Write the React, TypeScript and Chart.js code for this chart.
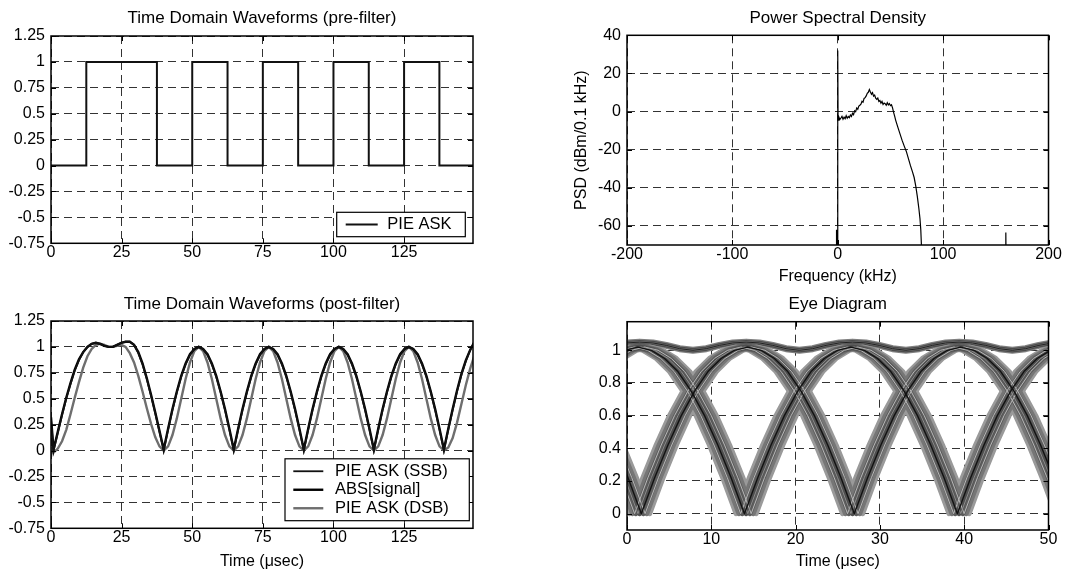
import React, { useEffect, useRef } from 'react';
import { Chart, registerables } from 'chart.js';

Chart.register(...registerables);

const FONT = "'Liberation Sans', Arial, Helvetica, sans-serif";
const GRID_COLOR = '#333333';
const GRID_DASH = [8, 5];

// ---------------- Time Domain Waveforms (pre-filter) ----------------
const preTitle = 'Time Domain Waveforms (pre-filter)';
const preXRange = [0, 149.4];
const preYRange = [-0.75, 1.25];
const preXTicks = [0, 25, 50, 75, 100, 125];
const preXTickLabels = ['0', '25', '50', '75', '100', '125'];
const preYTicks = [-0.75, -0.5, -0.25, 0, 0.25, 0.5, 0.75, 1, 1.25];
const preYTickLabels = ['-0.75', '-0.5', '-0.25', '0', '0.25', '0.5', '0.75', '1', '1.25'];
const pieEdgeTimes = [0, 12.5, 37.5, 50, 62.5, 75, 87.5, 100, 112.5, 125, 137.5, 150];
const pieLevels = [0, 1, 0, 1, 0, 1, 0, 1, 0, 1, 0, 0];
const preLegendLabels = ['PIE ASK'];

// ---------------- Time Domain Waveforms (post-filter) ----------------
const postTitle = 'Time Domain Waveforms (post-filter)';
const postXTitle = 'Time (\u03bcsec)';
const postXRange = [0, 149.4];
const postYRange = [-0.75, 1.25];
const postXTicks = [0, 25, 50, 75, 100, 125];
const postXTickLabels = ['0', '25', '50', '75', '100', '125'];
const postYTicks = [-0.75, -0.5, -0.25, 0, 0.25, 0.5, 0.75, 1, 1.25];
const postYTickLabels = ['-0.75', '-0.5', '-0.25', '0', '0.25', '0.5', '0.75', '1', '1.25'];
const postLegendLabels = ['PIE ASK (SSB)', 'ABS[signal]', 'PIE ASK (DSB)'];
const postTimes = [
  0, 0.9, 2.4, 3.9, 5.4, 6.9, 8.4, 9.9, 11.4, 12.9, 14.4, 15.9, 17.4, 18.9, 20.4, 21.9, 23.4, 24.9, 26.4, 27.9,
  29.4, 30.9, 32.4, 33.9, 35.4, 36.9, 38.4, 39.9,
  41.45, 43, 44.55, 46.1, 47.65, 49.2, 50.75, 52.3, 53.85, 55.4, 56.95, 58.5, 60.05, 61.6, 63.15, 64.7,
  66.25, 67.8, 69.35, 70.9, 72.45, 74, 75.55, 77.1, 78.65, 80.2, 81.75, 83.3, 84.85, 86.4, 87.95, 89.5,
  91.05, 92.6, 94.15, 95.7, 97.25, 98.8, 100.35, 101.9, 103.45, 105, 106.55, 108.1, 109.65, 111.2, 112.75, 114.3,
  115.85, 117.4, 118.95, 120.5, 122.05, 123.6, 125.15, 126.7, 128.25, 129.8, 131.35, 132.9, 134.45, 136, 137.55, 139.1,
  140.65, 142.2, 143.75, 145.3, 146.85, 148.4, 149.95,
];
const ssbValues = [
  0.3, 0, 0.17, 0.34, 0.5, 0.64, 0.77, 0.87, 0.95, 1.0, 1.03, 1.04, 1.03, 1.01, 1.0, 1.0, 1.02, 1.04, 1.05, 1.05,
  1.02, 0.94, 0.83, 0.69, 0.53, 0.36, 0.18, 0,
  0.2, 0.39, 0.56, 0.71, 0.83, 0.92, 0.98, 1.0, 0.98, 0.92, 0.83, 0.71, 0.56, 0.39, 0.2, 0,
  0.2, 0.39, 0.56, 0.71, 0.83, 0.92, 0.98, 1.0, 0.98, 0.92, 0.83, 0.71, 0.56, 0.39, 0.2, 0,
  0.2, 0.39, 0.56, 0.71, 0.83, 0.92, 0.98, 1.0, 0.98, 0.92, 0.83, 0.71, 0.56, 0.39, 0.2, 0,
  0.2, 0.39, 0.56, 0.71, 0.83, 0.92, 0.98, 1.0, 0.98, 0.92, 0.83, 0.71, 0.56, 0.39, 0.2, 0,
  0.2, 0.39, 0.57, 0.73, 0.86, 0.97, 1.05,
];
const absValues = [
  0.32, 0.01, 0.18, 0.35, 0.51, 0.65, 0.78, 0.88, 0.95, 1.0, 1.03, 1.04, 1.03, 1.01, 1.0, 1.0, 1.02, 1.04, 1.05, 1.05,
  1.02, 0.95, 0.84, 0.7, 0.54, 0.37, 0.19, 0.01,
  0.21, 0.4, 0.57, 0.72, 0.84, 0.93, 0.98, 1.0, 0.98, 0.93, 0.84, 0.72, 0.57, 0.4, 0.21, 0.01,
  0.21, 0.4, 0.57, 0.72, 0.84, 0.93, 0.98, 1.0, 0.98, 0.93, 0.84, 0.72, 0.57, 0.4, 0.21, 0.01,
  0.21, 0.4, 0.57, 0.72, 0.84, 0.93, 0.98, 1.0, 0.98, 0.93, 0.84, 0.72, 0.57, 0.4, 0.21, 0.01,
  0.21, 0.4, 0.57, 0.72, 0.84, 0.93, 0.98, 1.0, 0.98, 0.93, 0.84, 0.72, 0.57, 0.4, 0.21, 0.01,
  0.21, 0.4, 0.58, 0.74, 0.87, 0.97, 1.05,
];
const dsbValues = [
  0.04, -0.02, 0.02, 0.09, 0.2, 0.35, 0.51, 0.66, 0.8, 0.91, 0.98, 1.02, 1.03, 1.02, 1.0, 1.0, 1.01, 1.02, 1.0, 0.94,
  0.85, 0.72, 0.57, 0.41, 0.26, 0.13, 0.04, 0,
  0.04, 0.15, 0.31, 0.5, 0.69, 0.85, 0.96, 1.0, 0.96, 0.85, 0.69, 0.5, 0.31, 0.15, 0.04, 0,
  0.04, 0.15, 0.31, 0.5, 0.69, 0.85, 0.96, 1.0, 0.96, 0.85, 0.69, 0.5, 0.31, 0.15, 0.04, 0,
  0.04, 0.15, 0.31, 0.5, 0.69, 0.85, 0.96, 1.0, 0.96, 0.85, 0.69, 0.5, 0.31, 0.15, 0.04, 0,
  0.04, 0.15, 0.31, 0.5, 0.69, 0.85, 0.96, 1.0, 0.96, 0.85, 0.69, 0.5, 0.31, 0.15, 0.04, 0,
  0.03, 0.12, 0.27, 0.45, 0.63, 0.79, 0.92,
];

// ---------------- Power Spectral Density ----------------
const psdTitle = 'Power Spectral Density';
const psdXTitle = 'Frequency (kHz)';
const psdYTitle = 'PSD (dBm/0.1 kHz)';
const psdXRange = [-200, 200];
const psdYRange = [-70, 40];
const psdXTicks = [-200, -100, 0, 100, 200];
const psdXTickLabels = ['-200', '-100', '0', '100', '200'];
const psdYTicks = [-60, -40, -20, 0, 20, 40];
const psdYTickLabels = ['-60', '-40', '-20', '0', '20', '40'];
const psdFreq = [
  -1.2, -1.2, -1.1, 0, 0,
  0.3, 1, 2, 3, 4, 5, 6, 7, 8, 9, 10,
  11, 12, 13, 14, 15, 16, 17, 18, 19, 20,
  21, 22, 23, 24, 25, 26, 27, 28, 29, 30,
  31, 32, 33, 34, 35, 36, 37, 38, 39, 40,
  41, 42, 43, 44, 45, 46, 47, 48, 49, 50,
  51, 52, 53, 54, 55,
  57, 59, 61, 63, 65, 67, 69, 71, 72.5, 74, 75.5, 77, 78, 78.8, 79.4, 79.8,
  159.5, 159.5, 159.7,
];
const psdValues = [
  -75, -62, -75, -75, 32,
  -4.5, -2.8, -4.2, -3.4, -2.5, -4.0, -2.9, -3.7, -2.2, -3.5, -2.6,
  -3.2, -1.8, -2.6, -0.9, -1.6, 0.4, -0.1, 1.9, 1.2, 2.9,
  3.3, 3.9, 5.4, 4.9, 6.9, 7.3, 8.2, 9.6, 10.1, 11.5,
  10.2, 9.1, 9.9, 8.1, 8.6, 7.0, 6.4, 7.1, 5.3, 5.8,
  4.4, 5.3, 3.7, 4.5, 4.1, 3.3, 4.6, 3.5, 4.2, 3.1,
  3.6, 1.9, -0.4, -2.4, -4.6,
  -8.2, -11.6, -15.0, -18.0, -20.8, -24.6, -28.4, -31.8, -34.6, -39.0, -44.5, -51.0, -56, -62, -70, -75,
  -75, -63.5, -75,
];

// ---------------- Eye Diagram ----------------
const eyeTitle = 'Eye Diagram';
const eyeXTitle = 'Time (\u03bcsec)';
const eyeXRange = [0, 50];
const eyeYRange = [-0.1, 1.175];
const eyeXTicks = [0, 10, 20, 30, 40, 50];
const eyeXTickLabels = ['0', '10', '20', '30', '40', '50'];
const eyeYTicks = [0, 0.2, 0.4, 0.6, 0.8, 1];
const eyeYTickLabels = ['0', '0.2', '0.4', '0.6', '0.8', '1'];
const eyeTime = [
  -1.66, -0.08, 1.5, 3.08, 4.66, 6.24, 7.82, 9.4, 10.97, 12.55, 14.13, 15.71, 17.29, 18.87, 20.45, 22.03, 23.61, 25.18,
  26.76, 28.34, 29.92, 31.5, 33.08, 34.66, 36.23, 37.81, 39.39, 40.97, 42.55, 44.13, 45.71, 47.29, 48.86, 50.44, 52.02,
];
// falling / rising / falling / rising ... trace
const eyeTraceA = [
  0.42, 0.22, 0, 0.22, 0.42, 0.6, 0.75, 0.87, 0.95, 1.0, 1.02, 1.0, 0.95, 0.87, 0.75, 0.6, 0.42, 0.22,
  0, 0.22, 0.42, 0.6, 0.75, 0.87, 0.95, 1.0, 1.02, 1.0, 0.95, 0.87, 0.75, 0.6, 0.42, 0.22, 0,
];
// rising / falling / rising / falling ... trace
const eyeTraceB = [
  0.95, 1.0, 1.02, 1.0, 0.95, 0.87, 0.75, 0.6, 0.42, 0.22, 0, 0.22, 0.42, 0.6, 0.75, 0.87, 0.95, 1.0,
  1.02, 1.0, 0.95, 0.87, 0.75, 0.6, 0.42, 0.22, 0, 0.22, 0.42, 0.6, 0.75, 0.87, 0.95, 1.0, 1.02,
];
// long-high trace (ripple near 1)
const eyeTraceC = [
  1.03, 1.045, 1.05, 1.045, 1.03, 1.01, 1.0, 1.01, 1.03, 1.045, 1.05, 1.045, 1.03, 1.01, 1.0, 1.01, 1.03, 1.045,
  1.05, 1.045, 1.03, 1.01, 1.0, 1.01, 1.03, 1.045, 1.05, 1.045, 1.03, 1.01, 1.0, 1.01, 1.03, 1.045, 1.05,
];
// timing jitter (usec) of the overlaid traces
const eyeJitter = [-1.2, 1.2, -0.85, 0.85, -0.45, 0.45, 0, -0.6, 0.65, -0.2, 0.2];

// ---------------- styling / layout ----------------
const eyeJitterStyles = [
  { w: 5, c: '#9a9a9a' },
  { w: 5, c: '#9a9a9a' },
  { w: 5, c: '#767676' },
  { w: 5, c: '#767676' },
  { w: 5, c: '#5c5c5c' },
  { w: 5, c: '#5c5c5c' },
  { w: 5, c: '#4e4e4e' },
  { w: 1, c: '#b8b8b8' },
  { w: 1, c: '#b8b8b8' },
  { w: 1, c: '#8c8c8c' },
  { w: 1.3, c: '#111111' },
];
const eyeFlatLayers = [
  { w: 7, c: '#808080' },
  { w: 4.5, c: '#4c4c4c' },
  { w: 2, c: '#707070' },
  { w: 1, c: '#222222' },
];

type Panel = {
  left: number; top: number; width: number; height: number;
  padRight: number; yAxisWidth: number; xAxisHeight: number;
  titlePadTop: number; titlePadBottom: number;
  xTitlePadBottom?: number; yTitlePadTop?: number;
};

const panelA: Panel = { left: 0, top: 0, width: 530, height: 289, padRight: 57, yAxisWidth: 51, xAxisHeight: 45.7, titlePadTop: 8.1, titlePadBottom: 7.5 };
const panelB: Panel = { left: 530, top: 0, width: 535, height: 289, padRight: 16.5, yAxisWidth: 97, xAxisHeight: 44, titlePadTop: 7.8, titlePadBottom: 7.1, xTitlePadBottom: 2.4, yTitlePadTop: 41.9 };
const panelC: Panel = { left: 0, top: 289, width: 530, height: 289, padRight: 57, yAxisWidth: 51, xAxisHeight: 49.7, titlePadTop: 5.3, titlePadBottom: 6.3, xTitlePadBottom: 6.4 };
const panelD: Panel = { left: 530, top: 289, width: 535, height: 289, padRight: 16.5, yAxisWidth: 97, xAxisHeight: 48, titlePadTop: 5.3, titlePadBottom: 7.0, xTitlePadBottom: 6.4 };

const pts = (xs: number[], ys: number[], dt = 0) => xs.map((x, i) => ({ x: x + dt, y: ys[i] }));

const matlabAxesPlugin = {
  id: 'matlabAxes',
  afterDraw(chart: any, _args: any, opts: any) {
    const { ctx, chartArea: a, scales } = chart;
    const xs = scales.x;
    const ys = scales.y;
    ctx.save();
    ctx.setLineDash([]);
    ctx.strokeStyle = '#000';
    ctx.lineWidth = 1;
    const tl = 5;
    ctx.beginPath();
    xs.ticks.forEach((t: any) => {
      const px = Math.round(xs.getPixelForValue(t.value)) + 0.5;
      ctx.moveTo(px, a.bottom);
      ctx.lineTo(px, a.bottom - tl);
      ctx.moveTo(px, a.top);
      ctx.lineTo(px, a.top + tl);
    });
    ys.ticks.forEach((t: any) => {
      const py = Math.round(ys.getPixelForValue(t.value)) + 0.5;
      ctx.moveTo(a.left, py);
      ctx.lineTo(a.left + tl, py);
      ctx.moveTo(a.right, py);
      ctx.lineTo(a.right - tl, py);
    });
    ctx.stroke();
    ctx.lineWidth = 1.5;
    ctx.strokeRect(a.left, a.top, a.right - a.left, a.bottom - a.top);

    const lg = opts && opts.legend;
    if (lg) {
      const items = chart.data.datasets.filter((d: any) => d.inLegend);
      const h = items.length * lg.rowHeight + 2 * lg.padY;
      const x0 = a.right - lg.right - lg.width;
      const y0 = a.bottom - lg.bottom - h;
      ctx.fillStyle = '#fff';
      ctx.fillRect(x0, y0, lg.width, h);
      ctx.strokeStyle = '#000';
      ctx.lineWidth = 1.2;
      ctx.strokeRect(x0, y0, lg.width, h);
      items.forEach((ds: any, i: number) => {
        const cy = y0 + lg.padY + lg.rowHeight * (i + 0.5);
        ctx.strokeStyle = ds.borderColor;
        ctx.lineWidth = ds.borderWidth;
        ctx.beginPath();
        ctx.moveTo(x0 + lg.lineX, cy);
        ctx.lineTo(x0 + lg.lineX + lg.lineLen, cy);
        ctx.stroke();
        ctx.fillStyle = '#000';
        ctx.font = `${lg.fontSize}px ${FONT}`;
        ctx.textAlign = 'left';
        ctx.textBaseline = 'middle';
        ctx.fillText(ds.label, x0 + lg.textX, cy);
      });
    }
    ctx.restore();
  },
};

function axis(kind: 'x' | 'y', range: number[], ticks: number[], labels: string[], panel: Panel, title?: string) {
  const isX = kind === 'x';
  return {
    type: 'linear',
    min: range[0],
    max: range[1],
    afterBuildTicks: (s: any) => {
      s.ticks = ticks.map((v) => ({ value: v }));
    },
    afterFit: (s: any) => {
      if (isX) s.height = panel.xAxisHeight;
      else s.width = panel.yAxisWidth;
    },
    ticks: {
      autoSkip: false,
      maxRotation: 0,
      minRotation: 0,
      padding: isX ? 0 : 6,
      color: '#000',
      font: { family: FONT, size: 16, lineHeight: 1.2 },
      callback: (_v: any, i: number) => labels[i],
    },
    grid: { color: GRID_COLOR, lineWidth: 1, drawTicks: false },
    border: { display: false, dash: GRID_DASH },
    title: title
      ? {
          display: true,
          text: title,
          color: '#000',
          font: { family: FONT, size: 16, lineHeight: 1.2 },
          padding: isX ? { top: 0, bottom: panel.xTitlePadBottom || 0 } : { top: panel.yTitlePadTop || 0, bottom: 0 },
        }
      : { display: false },
  };
}

function baseConfig(panel: Panel, titleText: string, datasets: any[], scales: any, legend?: any) {
  return {
    type: 'line',
    data: { datasets },
    options: {
      animation: false,
      responsive: false,
      maintainAspectRatio: false,
      devicePixelRatio: 1,
      events: [],
      layout: { padding: { left: 0, top: 0, right: panel.padRight, bottom: 0 } },
      elements: { point: { radius: 0 }, line: { tension: 0 } },
      plugins: {
        legend: { display: false },
        tooltip: { enabled: false },
        title: {
          display: true,
          text: titleText,
          fullSize: false,
          color: '#000',
          font: { family: FONT, size: 17, weight: 'normal', lineHeight: 1.2 },
          padding: { top: panel.titlePadTop, bottom: panel.titlePadBottom },
        },
        matlabAxes: { legend: legend || null },
      },
      scales,
    },
    plugins: [matlabAxesPlugin],
  };
}

const buildA = () =>
  baseConfig(
    panelA,
    preTitle,
    [
      {
        label: preLegendLabels[0],
        inLegend: true,
        data: pts(pieEdgeTimes, pieLevels),
        stepped: 'before',
        borderColor: '#111111',
        borderWidth: 2,
        pointRadius: 0,
        clip: 0,
      },
    ],
    {
      x: axis('x', preXRange, preXTicks, preXTickLabels, panelA),
      y: axis('y', preYRange, preYTicks, preYTickLabels, panelA),
    },
    { right: 7.7, bottom: 6.6, width: 128.6, rowHeight: 18.4, padY: 3, lineX: 9, lineLen: 32, textX: 50.6, fontSize: 16.5 }
  );

const buildB = () =>
  baseConfig(
    panelB,
    psdTitle,
    [
      {
        label: 'PSD',
        data: pts(psdFreq, psdValues),
        borderColor: '#000000',
        borderWidth: 1.2,
        pointRadius: 0,
        clip: 0,
      },
    ],
    {
      x: axis('x', psdXRange, psdXTicks, psdXTickLabels, panelB, psdXTitle),
      y: axis('y', psdYRange, psdYTicks, psdYTickLabels, panelB, psdYTitle),
    }
  );

const buildC = () =>
  baseConfig(
    panelC,
    postTitle,
    [
      { label: postLegendLabels[0], inLegend: true, data: pts(postTimes, ssbValues), borderColor: '#111111', borderWidth: 1.8, pointRadius: 0, clip: 0, order: 1 },
      { label: postLegendLabels[1], inLegend: true, data: pts(postTimes, absValues), borderColor: '#000000', borderWidth: 2.4, pointRadius: 0, clip: 0, order: 2 },
      { label: postLegendLabels[2], inLegend: true, data: pts(postTimes, dsbValues), borderColor: '#6e6e6e', borderWidth: 2.4, pointRadius: 0, clip: 0, order: 3 },
    ],
    {
      x: axis('x', postXRange, postXTicks, postXTickLabels, panelC, postXTitle),
      y: axis('y', postYRange, postYTicks, postYTickLabels, panelC),
    },
    { right: 3.7, bottom: 7.6, width: 184.3, rowHeight: 18.5, padY: 3.2, lineX: 8.3, lineLen: 30, textX: 50, fontSize: 16.5 }
  );

const buildD = () => {
  const seq: any[] = [];
  eyeFlatLayers.forEach((l) => {
    seq.push({ label: 'eye', data: pts(eyeTime, eyeTraceC), borderColor: l.c, borderWidth: l.w });
  });
  eyeJitter.forEach((dt, k) => {
    const st = eyeJitterStyles[k];
    seq.push({ label: 'eye', data: pts(eyeTime, eyeTraceA, dt), borderColor: st.c, borderWidth: st.w });
    seq.push({ label: 'eye', data: pts(eyeTime, eyeTraceB, -dt), borderColor: st.c, borderWidth: st.w });
  });
  const n = seq.length;
  const datasets = seq.map((d, i) => ({
    ...d,
    pointRadius: 0,
    clip: 0,
    borderJoinStyle: 'round',
    borderCapStyle: 'round',
    order: n - i,
  }));
  return baseConfig(panelD, eyeTitle, datasets, {
    x: axis('x', eyeXRange, eyeXTicks, eyeXTickLabels, panelD, eyeXTitle),
    y: axis('y', eyeYRange, eyeYTicks, eyeYTickLabels, panelD),
  });
};

function ChartPanel({ panel, build }: { panel: Panel; build: () => any }) {
  const ref = useRef<HTMLCanvasElement>(null);
  useEffect(() => {
    const chart = new Chart(ref.current as HTMLCanvasElement, build() as any);
    return () => chart.destroy();
  }, []);
  return (
    <canvas
      ref={ref}
      width={panel.width}
      height={panel.height}
      style={{ position: 'absolute', left: panel.left, top: panel.top, width: panel.width, height: panel.height }}
    />
  );
}

export default function App() {
  return (
    <div style={{ position: 'absolute', left: 0, top: 0, width: 1065, height: 578, background: '#fff' }}>
      <ChartPanel panel={panelA} build={buildA} />
      <ChartPanel panel={panelB} build={buildB} />
      <ChartPanel panel={panelC} build={buildC} />
      <ChartPanel panel={panelD} build={buildD} />
    </div>
  );
}
